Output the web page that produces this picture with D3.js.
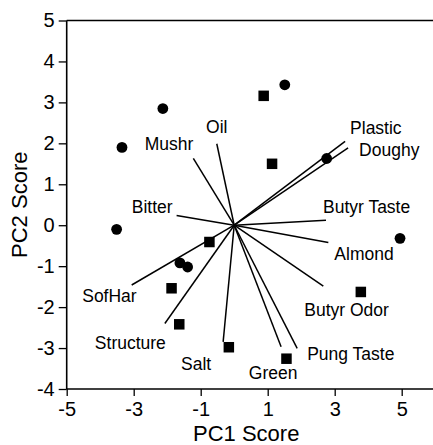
<!DOCTYPE html>
<html>
<head>
<meta charset="utf-8">
<script src="https://cdn.jsdelivr.net/npm/d3@7"></script>
<style>
  html, body { margin: 0; padding: 0; background: #fff; }
  svg { display: block; font-family: "Liberation Sans", Arial, Helvetica, sans-serif; }
</style>
</head>
<body>
<svg id="chart" width="433" height="445"></svg>
<script>
// Sample scores on the first two principal components
const circleX = [-2.13, -3.35, -3.51, -1.62, -1.39, 1.51, 2.76, 4.95];
const circleY = [2.85, 1.90, -0.10, -0.92, -1.02, 3.43, 1.63, -0.32];
const squareX = [0.88, 1.13, -0.74, -1.87, -1.64, -0.16, 1.56, 3.78];
const squareY = [3.16, 1.50, -0.41, -1.54, -2.42, -2.98, -3.26, -1.63];

// Attribute loadings, drawn as vectors from the origin
const attributes = ["Oil", "Mushr", "Bitter", "SofHar", "Structure", "Salt", "Green",
  "Pung Taste", "Butyr Odor", "Almond", "Butyr Taste", "Plastic", "Doughy"];
const loadX = [-0.52, -1.22, -1.72, -3.06, -2.07, -0.33, 1.40, 1.88, 2.66, 2.81, 2.74, 3.31, 3.40];
const loadY = [1.99, 1.63, 0.24, -1.46, -2.40, -2.85, -2.97, -3.01, -1.49, -0.42, 0.12, 2.05, 1.89];

// Axis ticks
const xTicks = [-5, -3, -1, 1, 3, 5];
const yTicks = [-4, -3, -2, -1, 0, 1, 2, 3, 4, 5];

// Label placement relative to each vector tip (pixels)
const labelLayout = {
  "Oil":         { dx: 0,   dy: -11, anchor: "middle" },
  "Mushr":       { dx: 0,   dy: -8,  anchor: "end" },
  "Bitter":      { dx: -4,  dy: -2,  anchor: "end" },
  "SofHar":      { dx: 5,   dy: 17,  anchor: "end" },
  "Structure":   { dx: 1,   dy: 26,  anchor: "end" },
  "Salt":        { dx: -12, dy: 28,  anchor: "end" },
  "Green":       { dx: -8,  dy: 32,  anchor: "middle" },
  "Pung Taste":  { dx: 10,  dy: 12,  anchor: "start" },
  "Butyr Odor":  { dx: -19, dy: 30,  anchor: "start" },
  "Almond":      { dx: 6,   dy: 18,  anchor: "start" },
  "Butyr Taste": { dx: -3,  dy: -7,  anchor: "start" },
  "Plastic":     { dx: 5,   dy: -7,  anchor: "start" },
  "Doughy":      { dx: 11,  dy: 8,   anchor: "start" }
};

const svg = d3.select("#chart");
const W = 433;

const x = d3.scaleLinear().domain([-5, 5]).range([66.7, 401.7]);
const y = d3.scaleLinear().domain([-4, 5]).range([389, 20.5]);

// Frame: left axis, top line and bottom axis running off to the right edge
const frame = svg.append("g").attr("stroke", "#000").attr("stroke-width", 1.6);
frame.append("line").attr("x1", x(-5)).attr("x2", W).attr("y1", y(5)).attr("y2", y(5));
frame.append("line").attr("x1", x(-5)).attr("x2", W).attr("y1", y(-4)).attr("y2", y(-4));

const signed = d => d < 0 ? "-" + Math.abs(d) : String(d);

const xAxis = svg.append("g")
  .attr("transform", `translate(0,${y(-4)})`)
  .call(d3.axisBottom(x).tickValues(xTicks).tickSize(7).tickPadding(6)
    .tickFormat(signed));
xAxis.select(".domain").remove();
xAxis.selectAll("line").attr("stroke", "#000").attr("stroke-width", 1.3);
xAxis.selectAll("text").attr("font-size", 20).attr("fill", "#000")
  .attr("font-family", "Liberation Sans, Arial, sans-serif");

const yAxis = svg.append("g")
  .attr("transform", `translate(${x(-5)},0)`)
  .call(d3.axisLeft(y).tickValues(yTicks).tickSize(8).tickPadding(4)
    .tickFormat(signed));
yAxis.select(".domain").attr("stroke", "#000").attr("stroke-width", 1.6)
  .attr("d", `M0,${y(5)}V${y(-4)}`);
yAxis.selectAll("line").attr("stroke", "#000").attr("stroke-width", 1.3);
yAxis.selectAll("text").attr("font-size", 20).attr("fill", "#000")
  .attr("font-family", "Liberation Sans, Arial, sans-serif");

// Axis titles
svg.append("text")
  .attr("x", (x(-5) + x(5)) / 2 + 12).attr("y", 441)
  .attr("text-anchor", "middle").attr("font-size", 22).attr("fill", "#000")
  .text("PC1 Score");
svg.append("text")
  .attr("transform", `translate(27,${(y(5) + y(-4)) / 2}) rotate(-90)`)
  .attr("text-anchor", "middle").attr("font-size", 22).attr("fill", "#000")
  .text("PC2 Score");

// Loading vectors
const vectors = attributes.map((name, i) => ({ name, lx: loadX[i], ly: loadY[i] }));
svg.append("g").selectAll("line").data(vectors).join("line")
  .attr("x1", x(0)).attr("y1", y(0))
  .attr("x2", d => x(d.lx)).attr("y2", d => y(d.ly))
  .attr("stroke", "#000").attr("stroke-width", 1.5);

svg.append("g").selectAll("text").data(vectors).join("text")
  .attr("x", d => x(d.lx) + labelLayout[d.name].dx)
  .attr("y", d => y(d.ly) + labelLayout[d.name].dy)
  .attr("text-anchor", d => labelLayout[d.name].anchor)
  .attr("font-size", 17.5).attr("fill", "#000")
  .text(d => d.name);

// Sample markers
const circles = circleX.map((v, i) => ({ sx: v, sy: circleY[i] }));
const squares = squareX.map((v, i) => ({ sx: v, sy: squareY[i] }));
const side = 10.5;

svg.append("g").selectAll("circle").data(circles).join("circle")
  .attr("cx", d => x(d.sx)).attr("cy", d => y(d.sy)).attr("r", 5.4)
  .attr("fill", "#000");

svg.append("g").selectAll("rect").data(squares).join("rect")
  .attr("x", d => x(d.sx) - side / 2).attr("y", d => y(d.sy) - side / 2)
  .attr("width", side).attr("height", side)
  .attr("fill", "#000");
</script>
</body>
</html>
